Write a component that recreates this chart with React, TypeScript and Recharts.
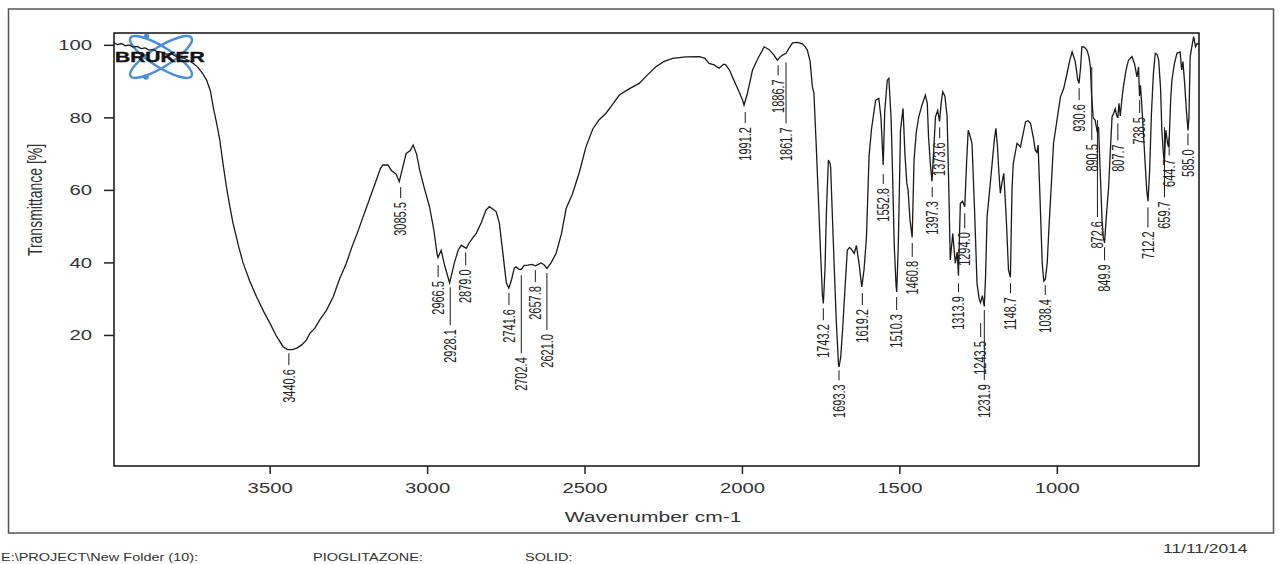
import { ComposedChart, Line, Scatter, XAxis, YAxis, ReferenceArea } from "recharts";

// spectrum, [wavenumber cm-1, transmittance %]
const ohBand: [number, number][] = [
  [3996, 100.7], [3985, 100.2], [3972, 100.5], [3960, 99.9], [3948, 100.1], [3935, 99.5],
  [3922, 99.7], [3910, 99.1], [3897, 99.3], [3885, 98.7], [3872, 98.9], [3860, 98.3],
  [3845, 98.1], [3830, 97.6], [3815, 97.7], [3800, 97.0], [3785, 96.7], [3770, 96.3],
  [3755, 95.6], [3744, 95.0], [3730, 94.0], [3715, 92.3], [3702, 90.4], [3690, 87.5],
  [3681, 83.0], [3670, 78.5], [3660, 73.9], [3650, 67.5], [3639, 61.0], [3628, 55.5],
  [3618, 51.0], [3600, 44.5], [3586, 40.0], [3565, 35.0], [3543, 30.6], [3520, 26.5],
  [3501, 23.4], [3480, 19.8], [3459, 16.9], [3445, 16.1], [3430, 16.1], [3415, 16.5],
  [3400, 17.4], [3385, 18.7], [3374, 20.6], [3358, 22.0], [3343, 24.2], [3321, 27.0],
  [3300, 30.6], [3280, 35.5], [3258, 39.9], [3240, 44.5], [3222, 48.5], [3205, 52.7],
  [3185, 57.5], [3163, 62.8], [3150, 66.0], [3142, 67.0],
];

const chBand: [number, number][] = [
  [3126, 67.0], [3115, 65.5], [3100, 64.5], [3090, 62.4], [3080, 66.0], [3068, 70.2],
  [3055, 71.0], [3046, 72.5], [3035, 70.0], [3025, 65.6], [3010, 60.5], [2994, 55.5],
  [2980, 49.0], [2970, 42.5], [2967, 41.5], [2957, 43.5], [2945, 39.0], [2930, 34.5],
  [2915, 40.0], [2903, 43.5], [2893, 44.9], [2886, 44.5], [2877, 44.0], [2868, 45.5],
  [2856, 47.0], [2846, 48.1], [2830, 51.0], [2815, 54.5], [2804, 55.5], [2792, 54.8],
  [2782, 54.1], [2772, 50.9], [2760, 42.0], [2750, 34.5], [2742, 33.0], [2733, 35.5],
  [2725, 38.5], [2719, 38.9], [2711, 38.3], [2703, 38.2], [2693, 39.3], [2682, 39.4],
  [2668, 39.6], [2658, 39.2], [2648, 39.6], [2640, 40.0], [2630, 39.5], [2621, 38.5],
  [2608, 40.0], [2592, 42.6], [2575, 48.0], [2560, 55.0],
];

const overtoneBand: [number, number][] = [
  [2540, 59.0], [2518, 65.0], [2497, 72.0], [2475, 77.0], [2455, 79.5], [2434, 81.2],
  [2410, 84.0], [2391, 86.3], [2360, 88.0], [2328, 89.5], [2300, 92.0], [2275, 94.1],
  [2250, 95.5], [2222, 96.4], [2180, 96.8], [2137, 96.9], [2120, 96.5], [2106, 95.0],
  [2090, 94.6], [2074, 93.7], [2060, 94.8], [2053, 94.6], [2040, 93.0], [2032, 91.3],
  [2015, 88.0], [2000, 85.0], [1995, 83.5], [1985, 86.5], [1968, 93.2], [1950, 96.5],
  [1931, 99.6], [1915, 98.8], [1900, 97.3], [1889, 95.9], [1880, 96.8], [1873, 97.3],
  [1862, 97.8], [1850, 99.5], [1841, 100.7], [1825, 100.8], [1810, 100.4], [1800, 99.5],
];

const carbonylBand: [number, number][] = [
  [1794, 98.7], [1785, 95.5], [1778, 88.6], [1773, 86.8], [1766, 73.0], [1759, 58.2],
  [1752, 43.0], [1746, 31.0], [1743, 28.8], [1738, 38.0], [1733, 55.0], [1727, 68.4],
  [1722, 67.5], [1720, 66.5], [1714, 52.0], [1709, 39.9], [1702, 24.0], [1695, 12.0],
  [1693, 11.3], [1688, 14.0], [1682, 21.5], [1675, 32.0], [1667, 43.5], [1660, 44.2],
  [1656, 44.0], [1645, 42.6], [1638, 44.8], [1630, 40.0], [1621, 33.4], [1614, 38.0],
  [1606, 47.2], [1598, 69.3], [1590, 77.0], [1577, 84.9], [1567, 85.4], [1560, 80.0],
  [1553, 67.0], [1548, 82.0], [1540, 90.4], [1535, 90.9], [1528, 80.0], [1524, 67.4],
  [1518, 45.0], [1512, 33.5], [1510, 32.0], [1505, 45.0], [1498, 76.6], [1490, 82.6],
  [1484, 70.0], [1478, 62.0], [1474, 60.1], [1468, 52.0], [1461, 47.0], [1455, 68.4],
  [1448, 76.0], [1440, 80.3], [1430, 83.5], [1419, 86.3], [1413, 84.0],
];

const fingerprintBand: [number, number][] = [
  [1409, 74.8], [1403, 67.0], [1398, 62.5], [1392, 72.0], [1387, 80.3], [1380, 82.0],
  [1374, 79.0], [1369, 84.0], [1364, 87.2], [1357, 86.0], [1350, 80.3], [1345, 62.0],
  [1340, 40.8], [1332, 48.1], [1324, 39.9], [1318, 43.0], [1314, 36.5], [1308, 56.4],
  [1301, 57.0], [1294, 55.5], [1288, 68.0], [1283, 76.6], [1277, 75.0], [1271, 73.0],
  [1263, 55.0], [1255, 34.3], [1248, 30.0], [1244, 29.0], [1238, 31.0], [1232, 28.0],
  [1228, 36.0], [1223, 52.7], [1215, 60.0], [1207, 67.4], [1200, 74.0], [1195, 77.1],
  [1190, 72.0], [1186, 65.6], [1181, 59.2], [1176, 62.0], [1170, 64.7], [1162, 52.0],
  [1155, 38.0], [1149, 36.0], [1144, 60.0], [1140, 67.4], [1128, 73.0], [1117, 72.0],
  [1110, 75.0], [1101, 78.9], [1093, 79.2], [1085, 78.5], [1075, 74.0], [1070, 71.1],
  [1065, 70.5], [1061, 72.5], [1055, 58.0], [1048, 40.0], [1043, 35.0], [1038, 35.5],
  [1032, 40.0], [1027, 49.0], [1020, 60.0], [1012, 73.0], [1000, 80.0],
];

const lowBand: [number, number][] = [
  [990, 85.8], [980, 88.0], [969, 92.3], [960, 96.0], [953, 98.2], [943, 95.5],
  [935, 90.5], [931, 89.5], [926, 94.0], [922, 99.6], [914, 99.5], [906, 98.7],
  [900, 97.0], [895, 94.1], [891, 86.0], [886, 80.0], [880, 79.4], [874, 76.5],
  [869, 77.5], [864, 65.6], [858, 52.0], [854, 47.0], [850, 45.5], [845, 52.0],
  [837, 61.0], [831, 72.0], [826, 80.3], [820, 81.5], [816, 82.5], [812, 80.8],
  [808, 80.0], [804, 84.0], [800, 80.5], [795, 85.0], [790, 88.6], [782, 93.0],
  [774, 95.9], [763, 96.9], [755, 95.0], [747, 91.3], [742, 94.1], [739, 86.0],
  [736, 89.0], [732, 84.0], [726, 75.0], [721, 67.4], [716, 60.0], [712, 57.0],
  [707, 65.0], [701, 81.2], [695, 92.0], [689, 97.8], [683, 97.5], [678, 95.9],
  [672, 88.0], [668, 76.6], [663, 70.0], [660, 67.5], [657, 74.0], [655, 76.6],
  [650, 73.0], [647, 72.0], [644, 75.5], [640, 85.0], [636, 90.4], [628, 95.0],
  [620, 97.8], [610, 98.2], [605, 93.2], [601, 95.5], [596, 90.0], [590, 82.0],
  [585, 76.5], [582, 80.0], [578, 96.9], [572, 100.0], [567, 102.4], [561, 99.6],
  [556, 100.5], [550, 100.2],
];

// peak picks: wavenumber, transmittance at top of the leader, leader length
const peakWaves = [
  3440.6, 3085.5, 2966.5, 2928.1, 2879.0, 2741.6, 2702.4, 2657.8, 2621.0, 1991.2,
  1886.7, 1861.7, 1743.2, 1693.3, 1619.2, 1552.8, 1510.3, 1460.8, 1397.3, 1373.6,
  1313.9, 1294.0, 1243.5, 1231.9, 1148.7, 1038.4, 930.6, 890.5, 872.6, 849.9,
  807.7, 738.5, 712.2, 659.7, 644.7, 585.0,
];
const peakTops = [
  15.1, 60.9, 39.4, 33.3, 42.9, 31.7, 36.6, 38.0, 37.2, 81.6,
  94.5, 95.3, 27.5, 10.4, 31.7, 64.5, 30.6, 45.5, 60.9, 77.4,
  34.4, 53.7, 23.4, 27.0, 34.4, 33.9, 88.2, 94.0, 79.4, 44.3,
  78.5, 84.9, 55.3, 77.4, 74.6, 75.7,
];
const peakLeads = [
  12, 11, 12, 38, 13, 12, 78, 12, 57, 11,
  10, 61, 12, 10, 12, 10, 13, 14, 10, 11,
  9, 15, 14, 70, 10, 10, 12, 73, 97, 13,
  17, 13, 20, 70, 18, 12,
];

const xTicks = [3500, 3000, 2500, 2000, 1500, 1000];
const yTicks = [20, 40, 60, 80, 100];

const spectrum = [...ohBand, ...chBand, ...overtoneBand, ...carbonylBand, ...fingerprintBand, ...lowBand]
  .map(([w, t]) => ({ w, t }));
const peaks = peakWaves.map((w, i) => ({ w, t: peakTops[i], lead: peakLeads[i], label: w.toFixed(1) }));

const FONT = "'Liberation Sans', Arial, sans-serif";
const WIDE = 1.45; // the print is stretched sideways

const XTick = (props: any) => {
  const { x, payload } = props;
  return (
    <g transform={`translate(${x},493) scale(${WIDE},1)`}>
      <text textAnchor="middle" fontFamily={FONT} fontSize={14} fill="#333">{payload.value}</text>
    </g>
  );
};

const YTick = (props: any) => {
  const { y, payload } = props;
  return (
    <g transform={`translate(92,${y}) scale(${WIDE},1)`}>
      <text textAnchor="end" dy={5} fontFamily={FONT} fontSize={14} fill="#333">{payload.value}</text>
    </g>
  );
};

const PeakMark = (props: any) => {
  const { cx, cy, payload } = props;
  const end = cy + payload.lead;
  return (
    <g>
      <line x1={cx} x2={cx} y1={cy} y2={end} stroke="#1a1a1a" strokeWidth={1} />
      <g transform={`translate(${cx},${end + 4}) scale(${WIDE},1) rotate(-90)`}>
        <text textAnchor="end" dy="0.36em" fontFamily={FONT} fontSize={11} fill="#222">{payload.label}</text>
      </g>
    </g>
  );
};

const Decor = () => (
  <svg width={1281} height={564} style={{ position: "absolute", left: 0, top: 0 }}>
    <rect x={8.5} y={9} width={1265} height={524} fill="none" stroke="#555" strokeWidth={1.5} />
    <g fill="none" stroke="#4a8fd8" strokeWidth={2.5}>
      <ellipse cx={161} cy={57} rx={36} ry={10} transform="rotate(32 161 57)" />
      <ellipse cx={161} cy={57} rx={36} ry={10} transform="rotate(-32 161 57)" />
    </g>
    <circle cx={146.5} cy={36.5} r={2.8} fill="#4a8fd8" />
    <circle cx={146} cy={77} r={2.8} fill="#4a8fd8" />
    <g transform="translate(115,62) scale(1.5,1)">
      <text fontFamily={FONT} fontWeight="bold" fontSize={14} fill="#111" stroke="#111" strokeWidth={0.4}>BRUKER</text>
    </g>
    <g transform={`translate(42,200) scale(${WIDE},1) rotate(-90)`}>
      <text textAnchor="middle" fontFamily={FONT} fontSize={14} fill="#333">Transmittance [%]</text>
    </g>
    <g transform={`translate(653,522) scale(${WIDE},1)`}>
      <text textAnchor="middle" fontFamily={FONT} fontSize={14.5} fill="#333">Wavenumber cm-1</text>
    </g>
    <g transform={`translate(1,561) scale(${WIDE},1)`}>
      <text fontFamily={FONT} fontSize={10} fill="#333">E:\PROJECT\New Folder (10):</text>
    </g>
    <g transform={`translate(313,561) scale(${WIDE},1)`}>
      <text fontFamily={FONT} fontSize={10} fill="#333">PIOGLITAZONE:</text>
    </g>
    <g transform={`translate(525,561) scale(${WIDE},1)`}>
      <text fontFamily={FONT} fontSize={10} fill="#333">SOLID:</text>
    </g>
    <g transform={`translate(1163,553) scale(${WIDE},1)`}>
      <text fontFamily={FONT} fontSize={12} fill="#333">11/11/2014</text>
    </g>
  </svg>
);

export default function App() {
  return (
    <div style={{ position: "absolute", left: 0, top: 0, width: 1281, height: 564, background: "#fff" }}>
      <Decor />
      <div style={{ position: "absolute", left: 0, top: 0 }}>
        <ComposedChart width={1281} height={564} data={spectrum} margin={{ top: 33, right: 82, bottom: 48, left: 0 }}>
          <XAxis
            type="number"
            dataKey="w"
            domain={[550, 3996]}
            reversed
            ticks={xTicks}
            interval={0}
            allowDataOverflow
            axisLine={false}
            tickSize={8}
            tickLine={{ stroke: "#222", strokeWidth: 1.5 }}
            tick={XTick}
            height={50}
          />
          <YAxis
            type="number"
            dataKey="t"
            domain={[-16, 103.4]}
            ticks={yTicks}
            interval={0}
            allowDataOverflow
            axisLine={false}
            tickSize={10}
            tickLine={{ stroke: "#222", strokeWidth: 1.5 }}
            tick={YTick}
            width={114}
          />
          <ReferenceArea x1={550} x2={3996} y1={-16} y2={103.4} fill="none" stroke="#111" strokeWidth={1.5} ifOverflow="visible" />
          <Line type="linear" dataKey="t" stroke="#1a1a1a" strokeWidth={1.3} dot={false} activeDot={false} isAnimationActive={false} />
          <Scatter data={peaks} dataKey="t" shape={PeakMark} isAnimationActive={false} />
        </ComposedChart>
      </div>
    </div>
  );
}
